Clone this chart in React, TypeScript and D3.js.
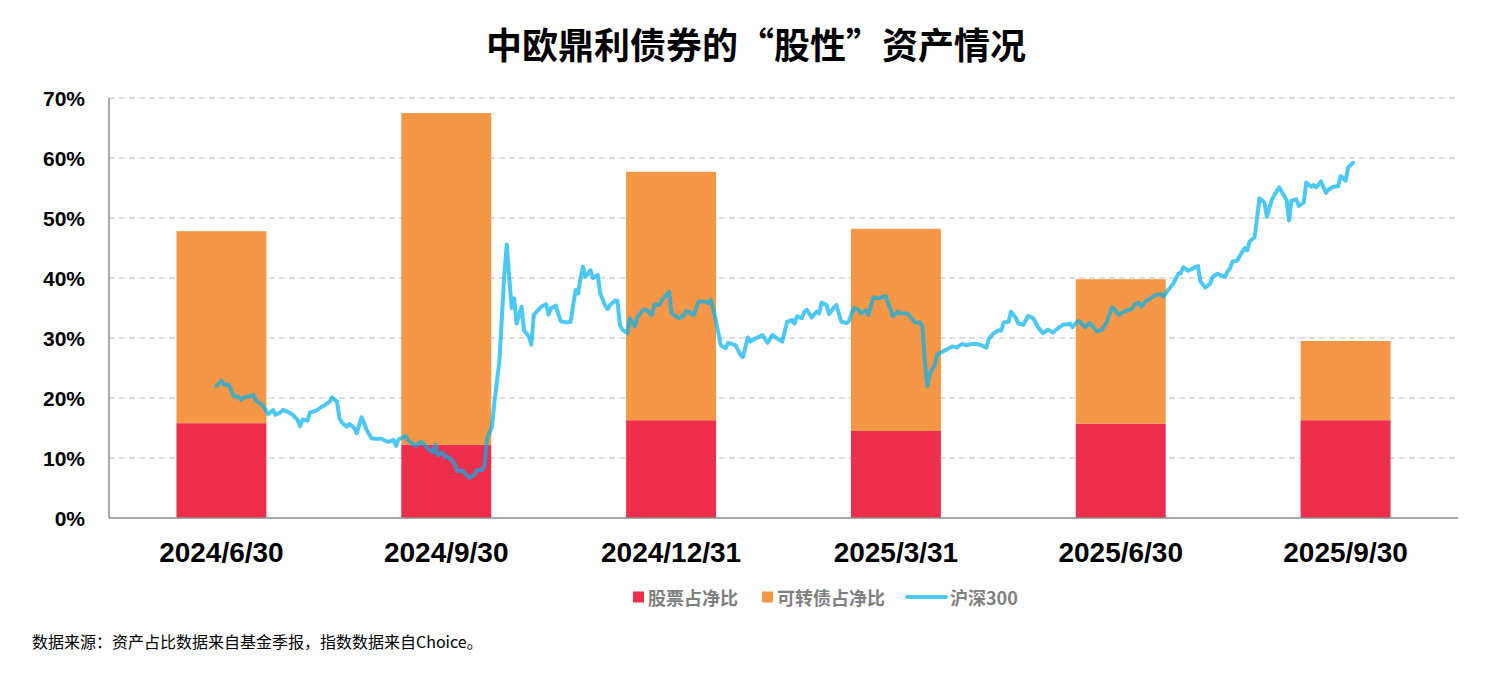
import React, { useEffect, useRef } from "react";
import * as d3 from "d3";

// 报告期
const periods = ["2024/6/30", "2024/9/30", "2024/12/31", "2025/3/31", "2025/6/30", "2025/9/30"];
// 股票占净比 (%)
const stockRatio = [15.8, 12.2, 16.3, 14.5, 15.7, 16.3];
// 可转债占净比 (%)
const cbRatio = [32.0, 55.3, 41.4, 33.7, 24.1, 13.2];
const yTicks = [0, 10, 20, 30, 40, 50, 60, 70];

// 沪深300: days since 2024/6/30, value on the same % axis
const hs300Day = [
	-2, 0, 1, 3, 4, 5, 7, 8, 10, 11, 13, 14, 16, 17, 18, 19, 21, 22, 24, 25, 27, 29, 31, 32, 33, 35, 36, 38, 39, 41,
	42, 44, 45, 47, 48, 49, 51, 52, 54, 55, 57, 58, 59, 61, 62, 64, 65, 67, 68, 70, 71, 72, 73, 75, 76, 78, 79, 81, 82,
	84, 86, 87, 88, 90, 91, 92, 94, 95, 96, 98, 99, 101, 103, 104, 106, 107, 108, 110, 111, 113, 114, 115, 116, 117, 118,
	119, 120, 122, 123, 125, 126, 127, 128, 130, 132, 133, 134, 136, 137, 138, 140, 142, 143, 144, 145, 146, 147, 148,
	150, 151, 153, 154, 156, 157, 158, 160, 161, 162, 163, 165, 166, 168, 169, 171, 172, 174, 175, 176, 178, 179, 180,
	182, 183, 186, 188, 189, 190, 192, 194, 196, 198, 199, 201, 203, 205, 206, 209, 211, 212, 214, 215, 217, 220, 222,
	224, 226, 228, 230, 232, 233, 234, 236, 237, 238, 240, 242, 243, 244, 246, 247, 249, 250, 252, 254, 255, 257, 259,
	260, 262, 263, 265, 267, 270, 273, 275, 276, 279, 280, 282, 284, 285, 286, 287, 288, 290, 291, 293, 295, 297, 299,
	301, 303, 305, 307, 309, 311, 312, 314, 316, 317, 318, 320, 321, 323, 324, 326, 328, 330, 332, 334, 336, 338, 340,
	342, 344, 345, 346, 348, 349, 351, 353, 354, 356, 358, 360, 362, 363, 365, 366, 368, 370, 371, 373, 374, 376, 377,
	379, 380, 382, 383, 385, 387, 389, 390, 391, 393, 395, 397, 398, 400, 402, 403, 405, 406, 408, 409, 410, 411, 413,
	414, 416, 417, 418, 420, 421, 422, 424, 425, 427, 428, 430, 431, 433, 434, 435, 437, 438, 440, 441, 443, 444, 445,
	447, 449, 450, 452, 454, 455, 457, 458, 460,
];
const hs300Value = [
	22.0, 22.9, 22.2, 22.2, 21.3, 20.3, 20.2, 19.7, 20.3, 20.2, 20.5, 19.6, 19.0, 18.6, 18.0, 17.3, 18.0, 17.2, 17.6,
	18.0, 17.7, 17.2, 16.3, 15.3, 16.4, 16.2, 17.6, 17.8, 18.0, 18.6, 18.8, 19.4, 20.1, 19.4, 16.6, 15.9, 15.2, 15.7,
	15.0, 14.1, 16.8, 15.8, 14.7, 13.3, 13.2, 13.2, 13.2, 12.8, 12.7, 13.0, 12.0, 13.1, 13.3, 13.7, 12.9, 12.3, 12.0,
	12.7, 12.4, 11.6, 10.9, 12.2, 10.5, 10.9, 10.1, 10.2, 9.5, 8.8, 7.8, 7.9, 7.4, 6.7, 7.3, 8.0, 8.0, 8.8, 13.3, 15.2,
	19.4, 26.1, 33.3, 40.5, 45.6, 40.0, 35.0, 36.6, 32.4, 35.2, 31.3, 30.2, 28.9, 33.9, 34.3, 35.2, 35.6, 33.9, 35.0,
	35.4, 33.9, 32.8, 32.6, 32.7, 35.5, 38.0, 37.4, 40.0, 41.9, 40.2, 41.3, 40.0, 40.5, 37.4, 35.4, 34.8, 35.5, 36.2,
	36.2, 32.2, 31.4, 30.8, 33.3, 31.9, 33.4, 34.5, 34.8, 34.3, 33.8, 35.6, 35.5, 36.3, 36.8, 37.7, 34.1, 33.3, 33.8,
	34.5, 34.4, 33.8, 36.1, 36.1, 35.8, 36.4, 33.0, 28.8, 28.3, 29.2, 28.8, 27.2, 26.8, 30.1, 29.4, 29.9, 30.5, 29.2,
	30.5, 29.9, 29.4, 32.7, 33.0, 32.4, 33.6, 33.3, 34.4, 34.7, 33.4, 34.4, 34.1, 35.9, 35.5, 34.0, 35.1, 35.5, 32.7,
	32.5, 32.7, 35.0, 34.7, 34.1, 34.6, 33.8, 36.8, 36.6, 37.0, 33.6, 34.4, 34.1, 34.1, 33.6, 32.6, 32.6, 31.8, 25.8,
	22.0, 24.1, 25.5, 27.2, 27.7, 28.1, 28.6, 28.4, 29.0, 28.8, 29.0, 29.0, 28.8, 28.4, 29.9, 30.8, 31.3, 31.2, 32.6,
	32.7, 34.4, 33.3, 32.4, 32.2, 33.7, 33.3, 31.8, 30.8, 31.4, 30.9, 31.6, 32.2, 32.3, 32.4, 31.8, 32.8, 32.7, 31.8,
	32.5, 32.0, 31.1, 31.4, 32.7, 35.1, 34.8, 33.8, 34.2, 34.6, 34.8, 35.5, 35.9, 35.2, 36.2, 36.4, 37.0, 37.2, 37.3,
	36.9, 38.1, 39.1, 40.7, 40.8, 41.8, 41.2, 41.6, 42.0, 39.4, 38.4, 39.1, 40.2, 40.7, 40.5, 40.2, 41.1, 41.6, 42.7,
	42.9, 43.7, 45.0, 44.6, 46.1, 46.8, 50.0, 53.3, 52.6, 50.2, 53.0, 53.8, 55.1, 54.4, 53.0, 49.6, 52.9, 53.1, 52.0,
	52.6, 55.9, 55.2, 55.5, 55.1, 56.1, 54.2, 54.7, 55.2, 55.3, 57.0, 56.2, 58.4, 59.2,
];
const lastPeriodDay = 457;

const RED = "#EE2F4B";
const ORANGE = "#F69647";
const BLUE = "#00B0F0";
const CJK = "'Noto Sans CJK SC', 'Noto Sans', sans-serif";
const NUM = "'Liberation Sans', Arial, sans-serif";

const App: React.FC = () => {
	const ref = useRef<SVGSVGElement>(null);

	useEffect(() => {
		const width = 1486;
		const height = 674;
		const plot = { left: 109, right: 1458, top: 98, bottom: 518 };

		const svg = d3.select(ref.current);
		svg.selectAll("*").remove();
		svg.attr("width", width).attr("height", height);

		const x = d3
			.scaleBand()
			.domain(periods)
			.range([plot.left, plot.right])
			.paddingInner(0.6)
			.paddingOuter(0.3);
		const y = d3.scaleLinear().domain([0, 70]).range([plot.bottom, plot.top]);
		const center = (p: string) => (x(p) || 0) + x.bandwidth() / 2;
		const xDay = d3
			.scaleLinear()
			.domain([0, lastPeriodDay])
			.range([center(periods[0]), center(periods[periods.length - 1])]);

		// title
		svg.append("text")
			.attr("x", 756)
			.attr("y", 43)
			.attr("text-anchor", "middle")
			.attr("dominant-baseline", "central")
			.style("font-family", CJK)
			.style("font-weight", 700)
			.style("font-size", "36px")
			.attr("fill", "#000")
			.text("中欧鼎利债券的“股性”资产情况");

		// grid
		svg.append("g")
			.selectAll("line")
			.data(yTicks.filter((t) => t > 0))
			.enter()
			.append("line")
			.attr("x1", plot.left)
			.attr("x2", plot.right)
			.attr("y1", (d) => y(d))
			.attr("y2", (d) => y(d))
			.attr("stroke", "#d4d4d4")
			.attr("stroke-width", 1.3)
			.attr("stroke-dasharray", "6,4");

		// y labels
		svg.append("g")
			.selectAll("text")
			.data(yTicks)
			.enter()
			.append("text")
			.attr("x", 85)
			.attr("y", (d) => y(d))
			.attr("text-anchor", "end")
			.attr("dominant-baseline", "central")
			.style("font-family", NUM)
			.style("font-weight", 700)
			.style("font-size", "21px")
			.attr("fill", "#000")
			.text((d) => d + "%");

		// stacked bars
		const bars = svg.append("g");
		bars.selectAll("rect.stock")
			.data(periods)
			.enter()
			.append("rect")
			.attr("class", "stock")
			.attr("x", (d) => x(d) || 0)
			.attr("width", x.bandwidth())
			.attr("y", (_, i) => y(stockRatio[i]))
			.attr("height", (_, i) => y(0) - y(stockRatio[i]))
			.attr("fill", RED);
		bars.selectAll("rect.cb")
			.data(periods)
			.enter()
			.append("rect")
			.attr("class", "cb")
			.attr("x", (d) => x(d) || 0)
			.attr("width", x.bandwidth())
			.attr("y", (_, i) => y(stockRatio[i] + cbRatio[i]))
			.attr("height", (_, i) => y(stockRatio[i]) - y(stockRatio[i] + cbRatio[i]))
			.attr("fill", ORANGE);

		// axes lines
		svg.append("line")
			.attr("x1", plot.left)
			.attr("x2", plot.left)
			.attr("y1", plot.top)
			.attr("y2", plot.bottom)
			.attr("stroke", "#8c8c8c")
			.attr("stroke-width", 1.5);
		svg.append("line")
			.attr("x1", plot.left)
			.attr("x2", plot.right)
			.attr("y1", plot.bottom)
			.attr("y2", plot.bottom)
			.attr("stroke", "#8c8c8c")
			.attr("stroke-width", 1.5);

		// x labels
		svg.append("g")
			.selectAll("text")
			.data(periods)
			.enter()
			.append("text")
			.attr("x", (d) => center(d))
			.attr("y", 552)
			.attr("text-anchor", "middle")
			.attr("dominant-baseline", "central")
			.style("font-family", NUM)
			.style("font-weight", 700)
			.style("font-size", "28px")
			.attr("fill", "#000")
			.text((d) => d);

		// 沪深300 line
		const line = d3
			.line<number>()
			.x((d) => xDay(d))
			.y((_, i) => y(hs300Value[i]));
		svg.append("path")
			.datum(hs300Day)
			.attr("d", line)
			.attr("fill", "none")
			.attr("stroke", BLUE)
			.attr("stroke-opacity", 0.7)
			.attr("stroke-width", 4)
			.attr("stroke-linejoin", "round")
			.attr("stroke-linecap", "round");

		// legend
		const lg = svg.append("g").style("font-family", CJK).style("font-weight", 700).style("font-size", "18px");
		const ly = 597;
		lg.append("rect").attr("x", 633).attr("y", ly - 5.5).attr("width", 11).attr("height", 11).attr("fill", RED);
		lg.append("text").attr("x", 648).attr("y", ly).attr("dominant-baseline", "central").attr("fill", "#7f7f7f").text("股票占净比");
		lg.append("rect").attr("x", 762).attr("y", ly - 5.5).attr("width", 11).attr("height", 11).attr("fill", ORANGE);
		lg.append("text").attr("x", 777).attr("y", ly).attr("dominant-baseline", "central").attr("fill", "#7f7f7f").text("可转债占净比");
		lg.append("line")
			.attr("x1", 907)
			.attr("x2", 946)
			.attr("y1", ly)
			.attr("y2", ly)
			.attr("stroke", BLUE)
			.attr("stroke-opacity", 0.7)
			.attr("stroke-width", 4)
			.attr("stroke-linecap", "round");
		lg.append("text").attr("x", 950).attr("y", ly).attr("dominant-baseline", "central").attr("fill", "#7f7f7f").text("沪深300");

		// source note
		svg.append("text")
			.attr("x", 32)
			.attr("y", 641)
			.attr("dominant-baseline", "central")
			.style("font-family", CJK)
			.style("font-size", "16px")
			.attr("fill", "#000")
			.text("数据来源：资产占比数据来自基金季报，指数数据来自Choice。");
	}, []);

	return <svg ref={ref} style={{ position: "absolute", left: 0, top: 0, display: "block", background: "#fff" }} />;
};

export default App;
